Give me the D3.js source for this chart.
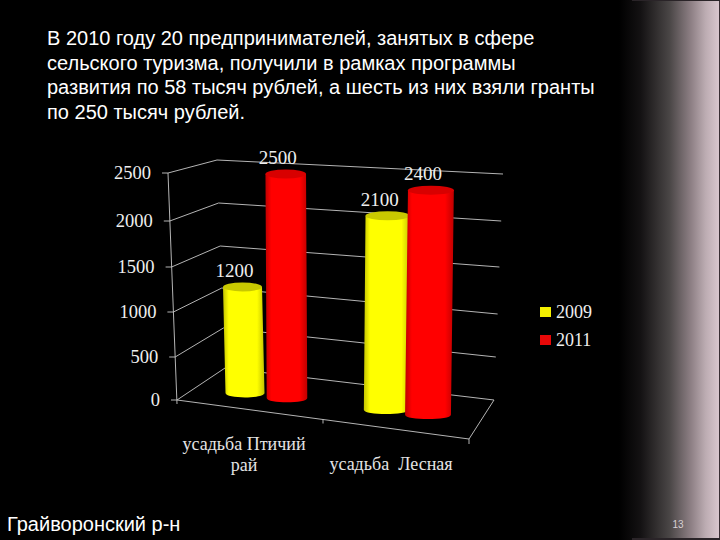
<!DOCTYPE html>
<html><head><meta charset="utf-8">
<style>html,body{margin:0;padding:0;background:#000}svg{display:block}</style>
<script src="https://cdn.jsdelivr.net/npm/d3@7/dist/d3.min.js"></script></head>
<body><svg id="c" width="720" height="540"></svg>
<script>
const titleLines=["В 2010 году 20 предпринимателей, занятых в сфере","сельского туризма, получили в рамках программы","развития по 58 тысяч рублей, а шесть из них взяли гранты","по 250 тысяч рублей."];
const categories=["усадьба Птичий рай","усадьба  Лесная"];
const seriesNames=["2009","2011"];
const values2009=[1200,2100];
const values2011=[2500,2400];
const tickValues=[0,500,1000,1500,2000,2500];
const footer="Грайворонский р-н";
const pageNumber="13";

const svg=d3.select("#c");
const defs=svg.append("defs");
const bg=defs.append("linearGradient").attr("id","bg");
[[0,"#000"],[.86,"#000"],[.89,"#141213"],[.93,"#4a4646"],[.96,"#8e8085"],[.98,"#bcacb2"],[1,"#dcc8d0"]]
 .forEach(([o,c])=>bg.append("stop").attr("offset",o).attr("stop-color",c));
svg.append("rect").attr("width",720).attr("height",540).attr("fill","url(#bg)");
svg.append("rect").attr("x",719).attr("width",1).attr("height",540).attr("fill","#3a2e34");
svg.append("rect").attr("x",632).attr("y",538).attr("width",88).attr("height",2).attr("fill","#2a2428");
svg.append("rect").attr("x",632).attr("y",0).attr("width",88).attr("height",1).attr("fill","#2a2428");

const colors={"2009":{edge:"#c4c400",mid:"#ffff00",top:"#c8c800"},"2011":{edge:"#c00000",mid:"#ff0000",top:"#d80000"}};
seriesNames.forEach(s=>{
  const g=defs.append("linearGradient").attr("id","g"+s);
  [[0,colors[s].edge],[.14,colors[s].mid],[.82,colors[s].mid],[1,colors[s].edge]]
   .forEach(([o,c])=>g.append("stop").attr("offset",o).attr("stop-color",c));
});

// Perspective edges of the 3D box: value -> position on each wall edge
const yFront=d3.scaleLinear().domain(tickValues).range([400,357,312,267,221,173]);
const xFront=d3.scaleLinear().domain([0,2500]).range([177,168]);
const yCorner=d3.scaleLinear().domain(tickValues).range([368,328,288,246,203,160]);
const xCorner=d3.scaleLinear().domain([0,2500]).range([225,217]);
const yRight=d3.scaleLinear().domain(tickValues).range([400,357,314,267,221,174]);
const xRight=d3.scaleLinear().domain([0,2500]).range([494,503]);

const grid=svg.append("g").attr("fill","none").attr("stroke","#c8c8c8").attr("stroke-width",0.9);
const line=d3.line();
tickValues.forEach(v=>{
  grid.append("path").attr("d",line([[xFront(v)-6,yFront(v)],[xFront(v),yFront(v)],[xCorner(v),yCorner(v)],[xRight(v),yRight(v)]]));
});
grid.append("path").attr("d",line([[xFront(2500),yFront(2500)],[xFront(0),yFront(0)+4]]));
// floor outline
const floorFront=d3.scaleLinear().domain([0,1]).range([177,469]);
const floorFrontY=d3.scaleLinear().domain([0,1]).range([400,439]);
grid.append("path").attr("d",line([[floorFront(0),floorFrontY(0)],[floorFront(1),floorFrontY(1)],[xRight(0),yRight(0)]]));
grid.append("path").attr("d",line([[floorFront(1),floorFrontY(1)],[floorFront(1),floorFrontY(1)+5]]));
grid.append("path").attr("d",line([[floorFront(.5),floorFrontY(.5)],[floorFront(.5),floorFrontY(.5)+4]]));

// axis labels
svg.append("g").selectAll("text").data(tickValues).join("text")
 .attr("x",v=>xFront(v)-17).attr("y",v=>yFront(v)+6)
 .attr("text-anchor","end").attr("font-family","Liberation Serif").attr("font-size",18.5).attr("fill","#eee")
 .text(v=>v);

// Bars
const x0=d3.scaleBand().domain(categories).range([195.5,477.5]);
const x1=d3.scaleBand().domain(seriesNames).range([-42,42]);
const baseY=d3.scaleLinear().domain([245,431]).range([393,415]);
const fullH=d3.scaleLinear().domain([245,431]).range([221,234]);
const barW=d3.scaleLinear().domain([245,431]).range([39,46]);
const lean=d3.scaleLinear().domain([245,431]).range([-2.5,3]);
const rows=[];
categories.forEach((c,i)=>{
  rows.push({c,s:"2009",v:values2009[i]});
  rows.push({c,s:"2011",v:values2011[i]});
});
rows.forEach(d=>{
  d.x=x0(d.c)+x0.bandwidth()/2+x1(d.s)+x1.bandwidth()/2;
  d.w=barW(d.x); d.base=baseY(d.x); d.top=d.base-fullH(d.x)*d.v/2500; d.xt=d.x+lean(d.x);
});
const ry=4.5;
const bars=svg.append("g");
rows.forEach(d=>{
  const r=d.w/2;
  const p=d3.path();
  p.moveTo(d.xt-r,d.top);
  p.lineTo(d.xt+r,d.top);
  p.lineTo(d.x+r,d.base);
  p.bezierCurveTo(d.x+r,d.base+ry*1.3,d.x-r,d.base+ry*1.3,d.x-r,d.base);
  p.closePath();
  bars.append("path").attr("d",p.toString()).attr("fill","url(#g"+d.s+")");
  bars.append("ellipse").attr("cx",d.xt).attr("cy",d.top).attr("rx",r).attr("ry",ry).attr("fill",colors[d.s].top);
});
// value labels
svg.append("g").selectAll("text").data(rows).join("text")
 .attr("x",d=>d.xt-8).attr("y",d=>d.top-10)
 .attr("text-anchor","middle").attr("font-family","Liberation Serif").attr("font-size",19).attr("fill","#eee")
 .text(d=>d.v);

// category labels
const catLab=svg.append("g").attr("font-family","Liberation Serif").attr("font-size",18).attr("fill","#e4e4e4").attr("text-anchor","middle");
const catPos=d3.scaleOrdinal().domain(categories).range([244,391]);
const t1=catLab.append("text").attr("x",catPos(categories[0])).attr("y",450);
t1.append("tspan").attr("x",catPos(categories[0])).text(categories[0].split(" ").slice(0,2).join(" "));
t1.append("tspan").attr("x",catPos(categories[0])).attr("dy",21).text(categories[0].split(" ")[2]);
catLab.append("text").attr("x",catPos(categories[1])).attr("y",470).style("white-space","pre").text(categories[1]);

// legend
const legY=d3.scaleOrdinal().domain(seriesNames).range([312,340]);
const leg=svg.append("g");
seriesNames.forEach(s=>{
  leg.append("rect").attr("x",540).attr("y",legY(s)-5).attr("width",11).attr("height",10).attr("fill",s==="2009"?"#f4f000":"#e80808");
  leg.append("text").attr("x",556).attr("y",legY(s)+6).attr("font-family","Liberation Serif").attr("font-size",18).attr("fill","#eee").text(s);
});

// slide text
const titleY=d3.scaleLinear().domain([0,3]).range([45,118.5]);
svg.append("g").selectAll("text").data(titleLines).join("text")
 .attr("x",47).attr("y",(d,i)=>titleY(i))
 .attr("font-family","Liberation Sans").attr("font-size",20).attr("fill","#fff").text(d=>d);
svg.append("text").attr("x",7).attr("y",531).attr("font-family","Liberation Sans").attr("font-size",20).attr("fill","#fff").text(footer);
svg.append("text").attr("x",678).attr("y",528).attr("text-anchor","middle").attr("font-family","Liberation Sans").attr("font-size",10).attr("fill","#d8d0d4").text(pageNumber);
</script></body></html>
